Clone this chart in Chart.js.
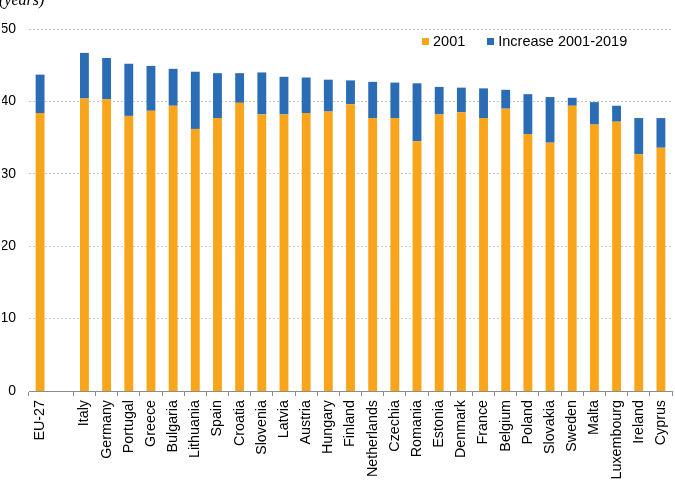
<!DOCTYPE html>
<html>
<head>
<meta charset="utf-8">
<script src="https://cdn.jsdelivr.net/npm/chart.js@4.4.1/dist/chart.umd.min.js"></script>
<style>
  body{ margin:0; background:#fff; font-family:"Liberation Sans", Arial, sans-serif; }
  #wrap{ position:relative; width:675px; height:480px; overflow:hidden; }
  #unit{ position:absolute; left:-1px; top:-8px; font:italic 16px/16px "Liberation Serif", "Times New Roman", serif; color:#000; }
  #legend{ position:absolute; left:422px; top:33px; display:flex; font-size:14.5px; line-height:16px; color:#000; }
  #legend .item{ display:flex; align-items:center; margin-right:22px; }
  #legend .sw{ width:7px; height:7px; margin-right:4px; }
</style>
</head>
<body>
<div id="wrap">
  <canvas id="c" width="675" height="480"></canvas>
  <div id="unit">(years)</div>
  <div id="legend"></div>
</div>
<script>
// median age, EU-27 + member states (blank slot after EU-27)
const countries = ["EU-27", "", "Italy", "Germany", "Portugal", "Greece", "Bulgaria", "Lithuania",
  "Spain", "Croatia", "Slovenia", "Latvia", "Austria", "Hungary", "Finland", "Netherlands",
  "Czechia", "Romania", "Estonia", "Denmark", "France", "Belgium", "Poland", "Slovakia",
  "Sweden", "Malta", "Luxembourg", "Ireland", "Cyprus"];

const age2001 = [38.4, null, 40.4, 40.3, 38.0, 38.7, 39.4, 36.2,
  37.7, 39.8, 38.2, 38.2, 38.4, 38.6, 39.6, 37.7,
  37.7, 34.5, 38.2, 38.5, 37.7, 39.0, 35.5, 34.3,
  39.4, 36.8, 37.2, 32.7, 33.6];

const increase = [5.3, null, 6.3, 5.7, 7.2, 6.2, 5.1, 7.9,
  6.2, 4.1, 5.8, 5.2, 4.9, 4.4, 3.3, 5.0,
  4.9, 8.0, 3.8, 3.4, 4.1, 2.6, 5.5, 6.3,
  1.1, 3.1, 2.2, 5.0, 4.1];

const yTicks = [0, 10, 20, 30, 40, 50];

const ORANGE = "#F9A51B";
const BLUE = "#2B6DB5";
const FONT = "'Liberation Sans', Arial, sans-serif";

const chart = new Chart(document.getElementById("c"), {
  type: "bar",
  data: {
    labels: countries,
    datasets: [
      { label: "2001", data: age2001, backgroundColor: ORANGE, barPercentage: 0.4, categoryPercentage: 1 },
      { label: "Increase 2001-2019", data: increase, backgroundColor: BLUE, barPercentage: 0.4, categoryPercentage: 1 }
    ]
  },
  options: {
    responsive: false,
    animation: false,
    devicePixelRatio: 1,
    layout: { padding: { top: 29, left: 2, right: 3, bottom: 0 } },
    plugins: { legend: { display: false }, tooltip: { enabled: false } },
    scales: {
      x: {
        stacked: true,
        // rotated labels make chart.js reserve side room; not wanted here
        afterFit: (s) => { s.paddingLeft = 0; s.paddingRight = 0; s.height = 89; },
        grid: {
          display: true, drawOnChartArea: false, drawTicks: true, tickLength: 5, offset: true,
          // no tick mark between EU-27 and the empty slot
          tickColor: (ctx) => ctx.index === 1 ? "rgba(0,0,0,0)" : "#8c8c8c"
        },
        border: { display: true, color: "#8c8c8c", width: 1 },
        ticks: { autoSkip: false, maxRotation: 90, minRotation: 90, padding: 4, color: "#000",
          font: { family: FONT, size: 14.3 } }
      },
      y: {
        stacked: true, min: 0, max: 50,
        afterBuildTicks: (s) => { s.ticks = yTicks.map(v => ({ value: v })); },
        afterFit: (s) => { s.width = 27; },
        grid: { color: "#c8c8c8", drawTicks: false, lineWidth: (ctx) => ctx.tick && ctx.tick.value === 0 ? 0 : 1 },
        border: { display: false, dash: [2, 2] },
        ticks: { padding: 13, color: "#000", font: { family: FONT, size: 14 } }
      }
    }
  }
});

// legend built from the datasets
const leg = document.getElementById("legend");
chart.data.datasets.forEach(ds => {
  const it = document.createElement("div");
  it.className = "item";
  it.innerHTML = `<span class="sw" style="background:${ds.backgroundColor}"></span><span>${ds.label}</span>`;
  leg.appendChild(it);
});
</script>
</body>
</html>
